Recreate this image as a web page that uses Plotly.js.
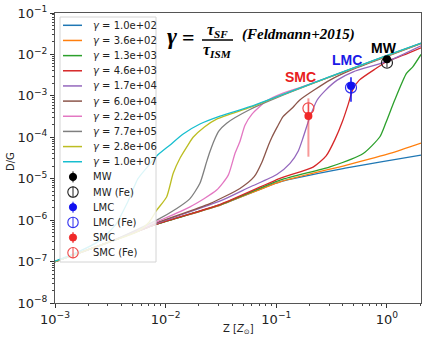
<!DOCTYPE html>
<html>
<head>
<meta charset="utf-8">
<script src="https://cdn.plot.ly/plotly-3.0.1.min.js"></script>
<style>
  html, body { margin: 0; padding: 0; background: #fff; }
  #chart { width: 436px; height: 340px; }
</style>
</head>
<body>
<div id="chart"></div>
<script>
// D/G vs metallicity, Feldmann (2015) model curves for several gamma values

const gammas = [1.0e2, 3.6e2, 1.3e3, 4.6e3, 1.7e4, 6.0e4, 2.2e5, 7.7e5, 2.8e6, 1.0e7];

// curves, one Z / D/G pair per gamma
const z_1e2  = [1e-3, 3.16e-3, 8.3e-3, 3.16e-2, 0.108, 0.432, 2.03];
const dg_1e2 = [1.0e-7, 3.02e-7, 8.0e-7, 2.35e-6, 8.41e-6, 1.82e-5, 3.72e-5];

const z_36e2  = [1e-3, 3.16e-3, 8.3e-3, 3.16e-2, 0.108, 0.432, 1.064, 2.03];
const dg_36e2 = [1.0e-7, 3.02e-7, 8.0e-7, 2.35e-6, 8.41e-6, 2.14e-5, 4.07e-5, 7.24e-5];

const z_13e3  = [1e-3, 3.16e-3, 8.3e-3, 3.16e-2, 0.108, 0.305, 0.610, 0.863, 0.977, 1.175, 1.50, 1.71, 2.03];
const dg_13e3 = [1.0e-7, 3.02e-7, 8.0e-7, 2.4e-6, 9.25e-6, 1.94e-5, 4.07e-5, 1.03e-4, 2.24e-4, 7.94e-4, 3.49e-3, 5.01e-3, 1.0e-2];

const z_46e3  = [1e-3, 3.16e-3, 8.3e-3, 3.16e-2, 0.108, 0.215, 0.282, 0.339, 0.398, 0.447, 0.490, 0.562, 0.794, 1.0, 1.40, 2.03];
const dg_46e3 = [1.0e-7, 3.02e-7, 8.0e-7, 2.45e-6, 1.02e-5, 1.91e-5, 3.55e-5, 8.91e-5, 2.51e-4, 6.31e-4, 1.41e-3, 2.40e-3, 4.57e-3, 6.76e-3, 9.55e-3, 1.45e-2];

const z_17e4  = [1e-3, 3.16e-3, 8.3e-3, 3.16e-2, 5.78e-2, 0.101, 0.133, 0.158, 0.175, 0.200, 0.234, 0.275, 0.355, 0.495, 1.0, 2.03];
const dg_17e4 = [1.0e-7, 3.02e-7, 8.32e-7, 2.95e-6, 6.31e-6, 1.26e-5, 2.34e-5, 4.68e-5, 1.0e-4, 2.95e-4, 7.94e-4, 1.32e-3, 2.40e-3, 3.80e-3, 6.76e-3, 1.62e-2];

const z_6e4  = [1e-3, 3.16e-3, 8.3e-3, 2.51e-2, 4.69e-2, 6.31e-2, 7.41e-2, 8.32e-2, 9.12e-2, 0.102, 0.115, 0.141, 0.163, 0.305, 0.501, 1.0, 2.03];
const dg_6e4 = [1.0e-7, 3.02e-7, 8.61e-7, 2.51e-6, 5.83e-6, 1.12e-5, 2.51e-5, 5.62e-5, 1.0e-4, 1.78e-4, 3.16e-4, 5.25e-4, 7.94e-4, 2.40e-3, 4.47e-3, 8.91e-3, 1.82e-2];

const z_22e5  = [1e-3, 3.16e-3, 8.3e-3, 1.66e-2, 2.89e-2, 3.68e-2, 4.23e-2, 4.69e-2, 5.21e-2, 6.03e-2, 8.17e-2, 0.115, 0.163, 0.305, 1.0, 2.03];
const dg_22e5 = [1.0e-7, 3.02e-7, 9.12e-7, 2.09e-6, 5.31e-6, 1.22e-5, 4.07e-5, 7.94e-5, 1.95e-4, 3.63e-4, 7.59e-4, 1.17e-3, 1.58e-3, 2.88e-3, 9.33e-3, 1.86e-2];

const z_77e5  = [1e-3, 3.16e-3, 8.3e-3, 1.26e-2, 1.66e-2, 2.04e-2, 2.34e-2, 2.51e-2, 2.75e-2, 3.02e-2, 3.56e-2, 5.78e-2, 0.1, 0.305, 1.0, 2.03];
const dg_77e5 = [1.0e-7, 3.02e-7, 1.0e-6, 1.91e-6, 3.31e-6, 7.76e-6, 2.51e-5, 4.47e-5, 8.51e-5, 1.41e-4, 2.19e-4, 4.68e-4, 8.91e-4, 2.85e-3, 9.23e-3, 1.86e-2];

const z_28e6  = [1e-3, 3.16e-3, 5.62e-3, 7.08e-3, 8.3e-3, 1.02e-2, 1.17e-2, 1.35e-2, 1.58e-2, 1.77e-2, 2.24e-2, 2.89e-2, 5.78e-2, 0.1, 0.305, 1.0, 2.03];
const dg_28e6 = [1.0e-7, 3.02e-7, 5.37e-7, 8.91e-7, 1.74e-6, 3.63e-6, 1.35e-5, 3.16e-5, 6.31e-5, 1.0e-4, 1.78e-4, 2.75e-4, 5.25e-4, 9.33e-4, 2.88e-3, 9.33e-3, 1.86e-2];

const z_1e7  = [1e-3, 1.58e-3, 2.51e-3, 3.55e-3, 4.47e-3, 5.62e-3, 6.92e-3, 8.3e-3, 1.09e-2, 1.44e-2, 2.04e-2, 3.10e-2, 5.78e-2, 0.305, 1.0, 2.03];
const dg_1e7 = [1.02e-7, 1.66e-7, 3.16e-7, 7.94e-7, 2.51e-6, 1.0e-5, 2.0e-5, 3.55e-5, 6.46e-5, 1.20e-4, 2.09e-4, 3.24e-4, 5.5e-4, 2.92e-3, 9.44e-3, 1.88e-2];

const curveZ  = [z_1e2, z_36e2, z_13e3, z_46e3, z_17e4, z_6e4, z_22e5, z_77e5, z_28e6, z_1e7];
const curveDG = [dg_1e2, dg_36e2, dg_13e3, dg_46e3, dg_17e4, dg_6e4, dg_22e5, dg_77e5, dg_28e6, dg_1e7];

// observed galaxies
const galNames  = ['MW', 'LMC', 'SMC'];
const galZ      = [1.0, 0.473, 0.195];
const galDG     = [7.6e-3, 1.73e-3, 3.25e-4];
const galErrUp  = [0.6e-3, 1.07e-3, 5.45e-4];
const galErrLo  = [0.6e-3, 1.01e-3, 2.91e-4];
const galDGFe   = [6.3e-3, 1.58e-3, 5.0e-4];
const galFeErrUp = [1.9e-3, 0.5e-3, 1.5e-4];
const galFeErrLo = [1.5e-3, 0.4e-3, 1.2e-4];

const xTickVals = [1e-3, 1e-2, 1e-1, 1];
const xTickText = ['10<sup>−3</sup>', '10<sup>−2</sup>', '10<sup>−1</sup>', '10<sup>0</sup>'];
const yTickVals = [1e-8, 1e-7, 1e-6, 1e-5, 1e-4, 1e-3, 1e-2, 1e-1];
const yTickText = ['10<sup>−8</sup>', '10<sup>−7</sup>', '10<sup>−6</sup>', '10<sup>−5</sup>',
                   '10<sup>−4</sup>', '10<sup>−3</sup>', '10<sup>−2</sup>', '10<sup>−1</sup>'];

// styling
const curveColors = ['#1f77b4', '#ff7f0e', '#2ca02c', '#d62728', '#9467bd',
                     '#8c564b', '#e377c2', '#7f7f7f', '#bcbd22', '#17becf'];
const galColors = ['#000000', '#1010f0', '#f02828'];
const galFeColors = ['#222222', '#3030f0', '#f04848'];
const galBarColors = ['#000000', '#1010f0', 'rgba(240,70,70,0.55)'];
const labelColors = ['#000000', '#1a1ae6', '#e82020'];

const W = 436, H = 340;
const M = { l: 55, r: 15, t: 13, b: 37 };
const PW = W - M.l - M.r, PH = H - M.t - M.b;
const px = x => (x - M.l) / PW;
const py = y => (H - M.b - y) / PH;

function fmtGamma(g) {
  return g.toExponential(1).replace(/e([+-])(\d)$/, 'e$10$2');
}

function minorTicks(lo, hi) {
  const out = [];
  for (let e = lo; e < hi; e++) {
    for (let k = 2; k <= 9; k++) out.push(k * Math.pow(10, e));
  }
  return out;
}

const traces = [];
curveZ.forEach((zs, i) => {
  traces.push({
    x: zs, y: curveDG[i],
    mode: 'lines',
    line: { color: curveColors[i], width: 1.3, shape: 'spline', smoothing: 0.6 },
    showlegend: false,
    hoverinfo: 'skip'
  });
});

galNames.forEach((name, i) => {
  traces.push({
    x: [galZ[i]], y: [galDGFe[i]],
    mode: 'markers',
    marker: { symbol: 'circle-open', size: 11, color: galFeColors[i], line: { width: 1.2 } },
    error_y: { type: 'data', array: [galFeErrUp[i]], arrayminus: [galFeErrLo[i]],
               color: galFeColors[i], thickness: 1, width: 0 },
    showlegend: false
  });
  traces.push({
    x: [galZ[i]], y: [galDG[i]],
    mode: 'markers',
    marker: { symbol: 'circle', size: 8, color: galColors[i] },
    error_y: { type: 'data', array: [galErrUp[i]], arrayminus: [galErrLo[i]],
               color: galBarColors[i], thickness: i === 2 ? 2 : 1.5, width: 0 },
    showlegend: false
  });
});

// hand-built legend (matplotlib style, tighter rows than plotly allows)
const shapes = [];
const annotations = [];
const rowY = i => 25.3 + i * 15.16;

shapes.push({
  type: 'rect', xref: 'paper', yref: 'paper', layer: 'above',
  x0: px(60), x1: px(156), y0: py(262), y1: py(17),
  fillcolor: 'rgba(255,255,255,0.85)', line: { color: '#d4d4d4', width: 1 }
});

gammas.forEach((g, i) => {
  shapes.push({
    type: 'line', xref: 'paper', yref: 'paper', layer: 'above',
    x0: px(63), x1: px(82), y0: py(rowY(i)), y1: py(rowY(i)),
    line: { color: curveColors[i], width: 1.5 }
  });
  annotations.push({
    xref: 'paper', yref: 'paper', x: px(91), y: py(rowY(i)),
    xanchor: 'left', yanchor: 'middle', showarrow: false,
    text: '<i>γ</i> = ' + fmtGamma(g),
    font: { family: 'DejaVu Sans', size: 10, color: '#222' }
  });
});

galNames.forEach((name, i) => {
  const entries = [
    { label: name, filled: true, color: galColors[i] },
    { label: name + ' (Fe)', filled: false, color: galFeColors[i] }
  ];
  entries.forEach((en, k) => {
    const r = rowY(10 + i * 2 + k);
    const rad = en.filled ? 3.6 : 5.2;
    shapes.push({
      type: 'circle', xref: 'paper', yref: 'paper', layer: 'above',
      xsizemode: 'pixel', ysizemode: 'pixel', xanchor: px(73), yanchor: py(r),
      x0: -rad, x1: rad, y0: -rad, y1: rad,
      fillcolor: en.filled ? en.color : 'rgba(0,0,0,0)',
      line: { color: en.color, width: en.filled ? 1 : 1.1 }
    });
    shapes.push({
      type: 'line', xref: 'paper', yref: 'paper', layer: 'above',
      xsizemode: 'pixel', ysizemode: 'pixel', xanchor: px(73), yanchor: py(r),
      x0: 0, x1: 0, y0: -5.5, y1: 5.5,
      line: { color: en.color, width: 1 }
    });
    annotations.push({
      xref: 'paper', yref: 'paper', x: px(91), y: py(r),
      xanchor: 'left', yanchor: 'middle', showarrow: false,
      text: en.label,
      font: { family: 'DejaVu Sans', size: 10, color: '#222' }
    });
  });
});

// galaxy labels
const labelPos = [[384, 48], [347, 60], [300, 77]];
galNames.forEach((name, i) => {
  annotations.push({
    xref: 'paper', yref: 'paper', x: px(labelPos[i][0]), y: py(labelPos[i][1]),
    xanchor: 'center', yanchor: 'middle', showarrow: false,
    text: '<b>' + name + '</b>',
    font: { family: 'Liberation Sans', size: 14, color: labelColors[i] }
  });
});

// gamma = tau_SF / tau_ISM  (Feldmann+2015)
const serif = 'Liberation Serif';
annotations.push(
  { xref: 'paper', yref: 'paper', x: px(172), y: py(36), xanchor: 'center', yanchor: 'middle',
    showarrow: false, text: '<b><i>γ</i></b>', font: { family: serif, size: 24, color: '#000' } },
  { xref: 'paper', yref: 'paper', x: px(188), y: py(38), xanchor: 'center', yanchor: 'middle',
    showarrow: false, text: '<b>=</b>', font: { family: serif, size: 22, color: '#000' } },
  { xref: 'paper', yref: 'paper', x: px(217), y: py(30), xanchor: 'center', yanchor: 'middle',
    showarrow: false, text: '<b><i>τ<sub>SF</sub></i></b>', font: { family: serif, size: 16, color: '#000' } },
  { xref: 'paper', yref: 'paper', x: px(217), y: py(50), xanchor: 'center', yanchor: 'middle',
    showarrow: false, text: '<b><i>τ<sub>ISM</sub></i></b>', font: { family: serif, size: 16, color: '#000' } },
  { xref: 'paper', yref: 'paper', x: px(298), y: py(34), xanchor: 'center', yanchor: 'middle',
    showarrow: false, text: '<b><i>(Feldmann+2015)</i></b>', font: { family: serif, size: 15, color: '#000' } }
);
shapes.push({
  type: 'line', xref: 'paper', yref: 'paper', layer: 'above',
  x0: px(202), x1: px(233), y0: py(40), y1: py(40),
  line: { color: '#000', width: 1.5 }
});

// axis titles
annotations.push(
  { xref: 'paper', yref: 'paper', x: px(10), y: py(162), xanchor: 'center', yanchor: 'middle',
    textangle: -90, showarrow: false, text: 'D/G',
    font: { family: 'DejaVu Sans', size: 10, color: '#222' } },
  { xref: 'paper', yref: 'paper', x: px(238), y: py(329), xanchor: 'center', yanchor: 'middle',
    showarrow: false, text: 'Z [<i>Z</i><sub>⊙</sub>]',
    font: { family: 'DejaVu Sans', size: 10, color: '#222' } }
);

const axisCommon = {
  type: 'log',
  showgrid: false,
  zeroline: false,
  showline: true,
  mirror: true,
  linecolor: '#555',
  linewidth: 1,
  ticks: 'outside',
  ticklen: 4,
  tickwidth: 1,
  tickcolor: '#333',
  tickmode: 'array',
  tickfont: { family: 'DejaVu Sans', size: 13, color: '#222' }
};

const layout = {
  width: W, height: H,
  margin: M,
  paper_bgcolor: '#fff',
  plot_bgcolor: '#fff',
  showlegend: false,
  xaxis: Object.assign({}, axisCommon, {
    range: [-3, Math.log10(2.03)],
    tickvals: xTickVals, ticktext: xTickText,
    minor: { tickmode: 'array', tickvals: minorTicks(-3, 1), ticks: 'outside', ticklen: 2, tickcolor: '#444', showgrid: false }
  }),
  yaxis: Object.assign({}, axisCommon, {
    range: [-8, -1],
    tickvals: yTickVals, ticktext: yTickText,
    minor: { tickmode: 'array', tickvals: minorTicks(-8, -1), ticks: 'outside', ticklen: 2, tickcolor: '#444', showgrid: false }
  }),
  shapes: shapes,
  annotations: annotations
};

Plotly.newPlot('chart', traces, layout, { staticPlot: true, displayModeBar: false });
</script>
</body>
</html>
